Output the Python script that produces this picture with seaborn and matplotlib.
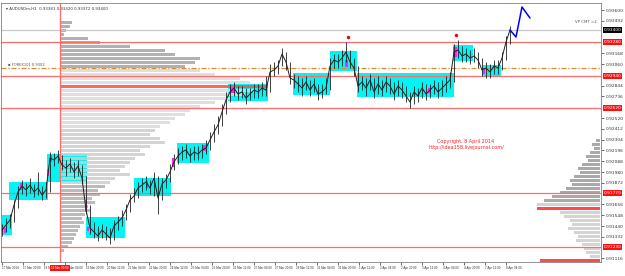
import matplotlib
matplotlib.use("Agg")
import matplotlib.pyplot as plt
import seaborn as sns
import numpy as np
import pandas as pd
from matplotlib.patches import Rectangle
import logging
logging.getLogger("matplotlib.font_manager").setLevel(logging.ERROR)

sns.set_style("white")
plt.rcParams['font.family'] = ['DejaVu Sans']

# ---------------- data ----------------
closes = [0.9140,0.9145,0.9150,0.9165,0.9178,0.9184,0.9180,0.9185,0.9178,0.9182,
          0.9175,0.9180,0.9212,0.9210,0.9214,0.9205,0.9202,0.9206,0.9198,0.9204,
          0.9192,0.9160,0.9142,0.9138,0.9134,0.9140,0.9136,0.9132,0.9144,0.9148,
          0.9152,0.9160,0.9170,0.9174,0.9182,0.9185,0.9188,0.9182,0.9192,0.9172,
          0.9186,0.9190,0.9198,0.9208,0.9214,0.9218,0.9220,0.9214,0.9218,0.9216,
          0.9220,0.9222,0.9230,0.9238,0.9245,0.9258,0.9270,0.9278,0.9282,0.9276,
          0.9278,0.9272,0.9276,0.9280,0.9278,0.9282,0.9280,0.9298,0.9300,0.9304,
          0.9316,0.9308,0.9292,0.9290,0.9286,0.9282,0.9288,0.9280,0.9286,0.9276,
          0.9278,0.9282,0.9304,0.9310,0.9308,0.9312,0.9318,0.9308,0.9302,0.9284,
          0.9288,0.9282,0.9290,0.9278,0.9286,0.9280,0.9288,0.9284,0.9276,0.9284,
          0.9280,0.9274,0.9268,0.9278,0.9274,0.9282,0.9276,0.9280,0.9284,0.9278,
          0.9282,0.9286,0.9290,0.9318,0.9320,0.9314,0.9316,0.9312,0.9314,0.9310,
          0.9300,0.9302,0.9298,0.9304,0.9302,0.9312,0.9328,0.9340]
highs = [0.9146,0.9152,0.9156,0.9170,0.9184,0.9190,0.9187,0.9192,0.9186,0.9198,
         0.9184,0.9188,0.9218,0.9217,0.9220,0.9215,0.9210,0.9212,0.9208,0.9210,
         0.9205,0.9194,0.9165,0.9148,0.9144,0.9146,0.9144,0.9142,0.9150,0.9154,
         0.9160,0.9166,0.9176,0.9182,0.9188,0.9192,0.9194,0.9190,0.9198,0.9194,
         0.9192,0.9196,0.9206,0.9216,0.9222,0.9224,0.9226,0.9222,0.9224,0.9224,
         0.9226,0.9230,0.9238,0.9246,0.9254,0.9266,0.9278,0.9286,0.9288,0.9284,
         0.9284,0.9282,0.9282,0.9286,0.9286,0.9288,0.9294,0.9306,0.9308,0.9310,
         0.9322,0.9318,0.9308,0.9296,0.9294,0.9292,0.9294,0.9290,0.9292,0.9286,
         0.9286,0.9292,0.9312,0.9316,0.9316,0.9320,0.9328,0.9320,0.9312,0.9304,
         0.9294,0.9292,0.9296,0.9292,0.9294,0.9290,0.9294,0.9292,0.9288,0.9290,
         0.9288,0.9284,0.9278,0.9284,0.9282,0.9288,0.9286,0.9286,0.9290,0.9288,
         0.9290,0.9294,0.9298,0.9326,0.9330,0.9324,0.9322,0.9320,0.9322,0.9318,
         0.9312,0.9308,0.9306,0.9310,0.9310,0.9318,0.9334,0.9344]
lows = [0.9134,0.9138,0.9142,0.9148,0.9162,0.9176,0.9174,0.9177,0.9173,0.9175,
        0.9170,0.9172,0.9178,0.9204,0.9207,0.9200,0.9194,0.9198,0.9192,0.9194,
        0.9186,0.9156,0.9136,0.9132,0.9129,0.9132,0.9130,0.9126,0.9130,0.9140,
        0.9144,0.9150,0.9158,0.9168,0.9172,0.9178,0.9180,0.9176,0.9174,0.9156,
        0.9170,0.9182,0.9188,0.9200,0.9206,0.9210,0.9212,0.9208,0.9210,0.9210,
        0.9212,0.9216,0.9220,0.9228,0.9236,0.9244,0.9256,0.9268,0.9274,0.9270,
        0.9272,0.9266,0.9270,0.9272,0.9272,0.9274,0.9274,0.9278,0.9294,0.9296,
        0.9304,0.9300,0.9286,0.9282,0.9278,0.9274,0.9280,0.9274,0.9278,0.9270,
        0.9272,0.9276,0.9280,0.9302,0.9302,0.9304,0.9308,0.9302,0.9294,0.9278,
        0.9280,0.9274,0.9280,0.9272,0.9276,0.9274,0.9278,0.9276,0.9270,0.9274,
        0.9272,0.9268,0.9262,0.9266,0.9268,0.9272,0.9270,0.9272,0.9276,0.9272,
        0.9274,0.9278,0.9282,0.9288,0.9312,0.9308,0.9308,0.9306,0.9308,0.9302,
        0.9294,0.9292,0.9292,0.9296,0.9296,0.9300,0.9310,0.9326]

time_labels = ["17 Mar 2014", "17 Mar 20:00", "18 Mar 12:00", "19 Mar 04:00", "19 Mar 20:00",
               "20 Mar 12:00", "21 Mar 04:00", "21 Mar 20:00", "24 Mar 12:00", "25 Mar 04:00",
               "25 Mar 20:00", "26 Mar 12:00", "27 Mar 04:00", "27 Mar 20:00", "28 Mar 12:00",
               "31 Mar 04:00", "31 Mar 20:00", "1 Apr 12:00", "2 Apr 04:00", "2 Apr 20:00",
               "3 Apr 12:00", "4 Apr 04:00", "4 Apr 20:00", "7 Apr 12:00", "8 Apr 04:00"]
price_ticks = [0.93600, 0.93492, 0.93384, 0.93276, 0.93168, 0.93060, 0.92952, 0.92844,
               0.92736, 0.92628, 0.92520, 0.92412, 0.92304, 0.92196, 0.92088, 0.91980,
               0.91872, 0.91764, 0.91656, 0.91548, 0.91440, 0.91332, 0.91224, 0.91116]

level_lines = [0.9328, 0.9294, 0.9262, 0.9177, 0.9123]
pivot_line = 0.9302
bid_price = 0.9340
vline_slot = 14.5
vline_label = "19 Mar 00:00"

# zones: (x0, x1, top, bottom)
zones = [(0, 2.5, 0.9155, 0.9135), (1.75, 11.5, 0.9188, 0.9170), (11.25, 21.25, 0.9216, 0.9188),
         (21, 30.75, 0.9153, 0.9132), (33, 42.25, 0.9192, 0.9174), (43.75, 51.75, 0.9227, 0.9207),
         (56.5, 66.5, 0.9286, 0.9269), (72.75, 82, 0.9297, 0.9275), (82, 88.75, 0.9319, 0.9299),
         (88.75, 113, 0.9297, 0.9273), (112.75, 117.75, 0.9325, 0.9309), (120, 124.75, 0.9305, 0.9294)]
marks = [(4.5, 5.0, 0.9187, 0.9180), (12.0, 12.5, 0.9215, 0.9208), (11.25, 11.75, 0.9201, 0.9194),
         (20.75, 21.25, 0.9170, 0.9158), (21.25, 21.75, 0.9143, 0.9139), (36.0, 36.5, 0.9189, 0.9182),
         (42.5, 43.0, 0.9212, 0.9203), (50.25, 51.0, 0.9225, 0.9219), (57.0, 58.25, 0.9282, 0.9277),
         (85.75, 86.5, 0.9310, 0.9303), (106.5, 107.25, 0.9282, 0.9277), (112.75, 113.75, 0.9323, 0.9313),
         (120.25, 120.75, 0.9302, 0.9296), (0.5, 1.0, 0.9142, 0.9137)]

left_top, left_step = 0.9348, 0.0004
left_vol = [12, 10, 6, 4, 28, 40, 70, 105, 115, 140, 135, 125, 140, 155, 180, 190, 208, 195, 185, 170,
            155, 140, 130, 125, 115, 110, 100, 95, 90, 100, 105, 90, 80, 85, 75, 70, 65, 60, 70, 55,
            50, 45, 38, 40, 32, 35, 28, 30, 25, 22, 24, 20, 18, 16, 14, 12, 8, 4]
right_top, right_step = 0.9230, 0.0004
right_vol = [4, 8, 6, 10, 14, 12, 18, 22, 20, 26, 30, 28, 34, 40, 48, 56, 63, 63, 40, 36, 30,
             28, 32, 26, 22, 24, 18, 16, 14, 10, 60]

proj_x = [127, 128.5, 130, 132]
proj_y = [0.9340, 0.9333, 0.9363, 0.9352]
red_dots_x = [86.5, 113.5]
red_dots_y = [0.9333, 0.9335]

# ---------------- figure ----------------
W, H = 625, 276
fig = plt.figure(figsize=(W / 100, H / 100), dpi=100)
ax = fig.add_axes([1 / W, 14 / H, 600 / W, 259 / H])
ax.set_xlim(-0.25, 149.75)
ax.set_ylim(0.9108, 0.9367)

# zones
for x0, x1, t, b in zones:
    ax.add_patch(Rectangle((x0, b), x1 - x0, t - b, facecolor="#00F5F5", edgecolor="none", zorder=1))

# left volume profile
left_levels = [left_top - left_step * i for i in range(len(left_vol))]
left_cols = []
for lv in left_levels:
    if abs(lv - 0.9284) < 0.00025:
        left_cols.append("#ff4a4a")
    elif lv >= 0.9303:
        left_cols.append("#a4a4a4")
    elif lv >= 0.9240:
        left_cols.append("#dadada")
    elif lv >= 0.9185:
        left_cols.append("#cdcdcd")
    else:
        left_cols.append("#b0b0b0")
ax.barh(left_levels, [v / 4 for v in left_vol], left=vline_slot, height=0.0003,
        color=left_cols, alpha=0.85, zorder=2, linewidth=0)

# right volume profile
right_levels = [right_top - right_step * i for i in range(len(right_vol))]
right_cols = []
for lv in right_levels:
    if lv <= 0.9112 or 0.9162 <= lv <= 0.9166:
        right_cols.append("#ff4a4a")
    elif lv >= 0.9170:
        right_cols.append("#a9a9a9")
    else:
        right_cols.append("#d4d4d4")
rw = [v / 4 for v in right_vol]
ax.barh(right_levels, rw, left=[149.5 - w for w in rw], height=0.0003,
        color=right_cols, zorder=2, linewidth=0)

# horizontal levels
ax.axhline(bid_price, color="#c8c8c8", lw=0.9, zorder=2.5)
for lv in level_lines:
    ax.axhline(lv, color="#ff6b6b", lw=0.9, zorder=2.5)
ax.axhline(pivot_line, color="#e08a2a", lw=0.9, ls=(0, (4, 1.5, 1, 1.5)), zorder=2.5)
ax.axvline(vline_slot, color="#ff6b6b", lw=0.9, zorder=2.5)

# magenta marks
for x0, x1, t, b in marks:
    ax.add_patch(Rectangle((x0, b), x1 - x0, t - b, facecolor="#ff20ff", edgecolor="none", zorder=3))

# price bars
slots = list(range(len(closes)))
df = pd.DataFrame({"slot": slots, "close": closes})
ax.vlines(slots, lows, highs, color="#202020", lw=0.6, zorder=4)
sns.lineplot(data=df, x="slot", y="close", color="#202020", lw=0.7, ax=ax, zorder=4)
ax.plot(red_dots_x, red_dots_y, "o", color="red", ms=1.5, zorder=5)

# projection
sns.lineplot(x=proj_x, y=proj_y, color="#0000ff", lw=1.1, ax=ax, sort=False, zorder=5)

# texts
ax.text(0.008, 0.985, "\u25be AUDUSDm,H1  0.93381 0.93420 0.93372 0.93400", transform=ax.transAxes,
        fontsize=2.8, color="#333333", va="top", ha="left")
ax.text(1.5, pivot_line + 0.0001, "\u25aa FOREX101 0.9302", fontsize=2.6, color="#555555",
        va="bottom", ha="left")
ax.text(0.993, 0.925, "VP CMT =2", transform=ax.transAxes, fontsize=2.8, color="#555555",
        va="center", ha="right")
ax.text(116, 0.9229, "Copyright, 8 April 2014", fontsize=3.5, color="#ff2020", ha="center", va="center")
ax.text(116, 0.9223, "http://idea158.livejournal.com/", fontsize=3.5, color="#ff2020", ha="center", va="center")

# axes styling
for s in ax.spines.values():
    s.set_color("#808080")
    s.set_linewidth(0.6)
ax.yaxis.tick_right()
covered = level_lines + [bid_price]
shown_ticks = [p for p in price_ticks if min(abs(p - c) for c in covered) > 0.0007]
ax.set_yticks(shown_ticks)
ax.set_yticklabels([f"{p:.5f}" for p in shown_ticks])
ax.set_xticks([5.25 * i for i in range(len(time_labels))])
ax.set_xticklabels(time_labels, ha="left", family=["Liberation Sans", "DejaVu Sans"])
ax.tick_params(axis="y", labelsize=3.2, length=2, width=0.5, pad=1.5, colors="#333333", right=True)
ax.tick_params(axis="x", labelsize=2.2, length=2, width=0.5, pad=1.2, colors="#333333", bottom=True)
ax.set_xlabel("")
ax.set_ylabel("")

ytr = ax.get_yaxis_transform()
for lv in level_lines:
    ax.text(1.004, lv, f"{lv:.5f}", transform=ytr, fontsize=3.2, color="white", va="center", ha="left",
            bbox=dict(boxstyle="square,pad=0.15", fc="#ff1010", ec="none"), clip_on=False, zorder=10)
ax.text(1.004, bid_price, f"{bid_price:.5f}", transform=ytr, fontsize=3.2, color="white", va="center",
        ha="left", bbox=dict(boxstyle="square,pad=0.15", fc="#000000", ec="none"), clip_on=False, zorder=10)
xtr = ax.get_xaxis_transform()
ax.text(vline_slot, -0.014, vline_label, transform=xtr, fontsize=2.2, color="white", va="top", ha="center",
        family=["Liberation Sans", "DejaVu Sans"],
        bbox=dict(boxstyle="square,pad=0.3", fc="#ff1010", ec="none"), clip_on=False, zorder=10)

fig.savefig("out.png", dpi=100, facecolor="white")
